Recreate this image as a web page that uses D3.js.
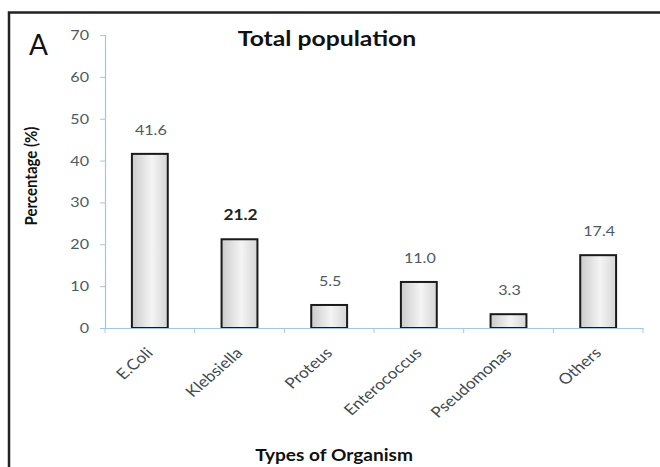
<!DOCTYPE html>
<html><head><meta charset="utf-8">
<script src="https://cdn.jsdelivr.net/npm/d3@7"></script>
<style>body{margin:0;background:#fff}svg{display:block}</style>
</head><body>
<svg id="c" width="660" height="467"></svg>
<script>
const categories = ["E.Coli","Klebsiella","Proteus","Enterococcus","Pseudomonas","Others"];
const values = [41.6, 21.2, 5.5, 11.0, 3.3, 17.4];
const valueLabels = ["41.6","21.2","5.5","11.0","3.3","17.4"];
const yTicks = [0,10,20,30,40,50,60,70];

(function(){
const svg = d3.select("#c");
const font = "Lato, 'Open Sans', sans-serif";
const pL = 105, pR = 643, pT = 35, pB = 328;
const S = 1.15; // horizontal text stretch
const axisCol = "#a3c6e2";

// frame
svg.append("rect").attr("x",9).attr("y",12.5).attr("width",700).attr("height",500)
  .attr("fill","none").attr("stroke","#222").attr("stroke-width",2.5);

const defs = svg.append("defs");
const g = defs.append("linearGradient").attr("id","bg").attr("x1","0").attr("x2","1").attr("y1","0").attr("y2","0");
g.append("stop").attr("offset","0%").attr("stop-color","#cbcbcb");
g.append("stop").attr("offset","55%").attr("stop-color","#f4f4f4");
g.append("stop").attr("offset","100%").attr("stop-color","#d6d6d6");

const x = d3.scaleBand().domain(categories).range([pL,pR]).paddingInner(0.6).paddingOuter(0.3);
const xb = d3.scaleBand().domain(categories).range([pL,pR]);
const y = d3.scaleLinear().domain([0,70]).range([pB,pT]);

// y axis
const ya = svg.append("g").attr("transform",`translate(${pL},0)`)
  .call(d3.axisLeft(y).tickValues(yTicks).tickSize(5).tickPadding(8).tickFormat(d3.format("d")));
ya.select(".domain").attr("stroke",axisCol).attr("stroke-width",1.2);
ya.selectAll(".tick line").attr("stroke",axisCol);
ya.selectAll(".tick text").attr("x",0).attr("transform",`translate(-16,0) scale(${S},1)`)
  .attr("font-family",font).attr("font-size",14).attr("fill","#4d5a66");

// bars
svg.selectAll(".bar").data(categories).join("rect")
  .attr("x",d=>x(d)).attr("width",x.bandwidth())
  .attr("y",(d,i)=>y(values[i])).attr("height",(d,i)=>y(0)-y(values[i]))
  .attr("fill","url(#bg)").attr("stroke","#1a1a1a").attr("stroke-width",2);

// x axis
const xa = svg.append("g").attr("transform",`translate(0,${pB})`)
  .call(d3.axisBottom(xb).tickSize(0).tickFormat(""));
xa.select(".domain").attr("stroke",axisCol).attr("stroke-width",1.2);
xa.selectAll(".tick").remove();
svg.selectAll(".xt").data(d3.range(categories.length+1)).join("line")
  .attr("x1",i=>pL+i*xb.step()).attr("x2",i=>pL+i*xb.step())
  .attr("y1",pB).attr("y2",pB+5).attr("stroke",axisCol);

// x labels
svg.selectAll(".xl").data(categories).join("text")
  .attr("transform",d=>`translate(${xb(d)+xb.bandwidth()/2+4},${pB+26}) scale(${S},1) rotate(-45)`)
  .attr("text-anchor","end").attr("font-family",font).attr("font-size",15).attr("fill","#3f4a52")
  .text(d=>d);

// value labels
svg.selectAll(".vl").data(categories).join("text")
  .attr("transform",(d,i)=>`translate(${x(d)+x.bandwidth()/2+1},${y(values[i])-19}) scale(${S},1)`)
  .attr("text-anchor","middle").attr("font-family",font)
  .attr("font-size",(d,i)=>i===1?15:14)
  .attr("font-weight",(d,i)=>i===1?"bold":"normal")
  .attr("fill",(d,i)=>i===1?"#222":"#4d5a66")
  .text((d,i)=>valueLabels[i]);

// titles
svg.append("text").attr("transform",`translate(327,46) scale(${S},1)`).attr("text-anchor","middle")
  .attr("font-family",font).attr("font-weight","bold").attr("font-size",21.5).attr("fill","#111")
  .text("Total population");
svg.append("text").attr("x",29).attr("y",55)
  .attr("font-family",font).attr("font-size",28).attr("fill","#111").text("A");
svg.append("text").attr("transform",`translate(37,176) scale(${S},1) rotate(-90)`).attr("text-anchor","middle")
  .attr("font-family",font).attr("font-weight","bold").attr("font-size",15).attr("fill","#111")
  .text("Percentage (%)");
svg.append("text").attr("transform",`translate(334,461) scale(${S},1)`).attr("text-anchor","middle")
  .attr("font-family",font).attr("font-weight","bold").attr("font-size",16.6).attr("fill","#111")
  .text("Types of Organism");
})();
</script>
</body></html>
